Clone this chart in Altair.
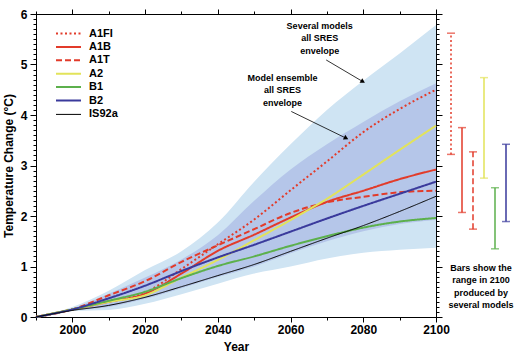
import math
import altair as alt
import pandas as pd

# ---------------- data ----------------
years = [1990, 2000, 2010, 2020, 2030, 2040, 2050, 2060, 2070, 2080, 2090, 2100]

a1fi = [0, 0.15, 0.31, 0.48, 0.95, 1.44, 1.93, 2.51, 3.08, 3.66, 4.12, 4.50]
a1b = [0, 0.15, 0.30, 0.46, 0.86, 1.31, 1.63, 1.97, 2.28, 2.50, 2.73, 2.92]
a1t = [0, 0.15, 0.43, 0.71, 1.09, 1.42, 1.74, 2.06, 2.27, 2.38, 2.47, 2.50]
a2 = [0, 0.15, 0.30, 0.43, 0.78, 1.13, 1.52, 1.92, 2.34, 2.82, 3.31, 3.79]
b1 = [0, 0.15, 0.32, 0.50, 0.77, 1.01, 1.20, 1.41, 1.60, 1.77, 1.89, 1.96]
b2 = [0, 0.15, 0.37, 0.62, 0.91, 1.18, 1.43, 1.69, 1.95, 2.20, 2.44, 2.68]
is92a = [0, 0.13, 0.23, 0.39, 0.60, 0.82, 1.04, 1.30, 1.56, 1.81, 2.09, 2.39]

# "Several models, all SRES envelope" (light) and "Model ensemble" (dark)
light_low = [0, 0.12, 0.14, 0.26, 0.45, 0.66, 0.86, 1.00, 1.16, 1.27, 1.33, 1.37]
light_high = [0, 0.20, 0.52, 0.93, 1.30, 1.87, 2.68, 3.42, 4.10, 4.68, 5.22, 5.78]
dark_low = [0, 0.13, 0.20, 0.36, 0.57, 0.79, 1.00, 1.26, 1.50, 1.70, 1.84, 1.92]
dark_high = [0, 0.17, 0.46, 0.78, 1.14, 1.62, 2.30, 2.92, 3.42, 3.86, 4.27, 4.63]

scenarios = ["A1FI", "A1B", "A1T", "A2", "B1", "B2", "IS92a"]
series = [a1fi, a1b, a1t, a2, b1, b2, is92a]

# ranges in 2100 from several models (bars at right)
bar_scen = ["A1FI", "A1B", "A1T", "A2", "B1", "B2"]
bar_low = [3.22, 2.07, 1.74, 2.75, 1.35, 1.89]
bar_high = [5.62, 3.75, 3.27, 4.74, 2.56, 3.42]

ann_text = ["Several models\nall SRES\nenvelope", "Model ensemble\nall SRES\nenvelope"]
ann_year = [2068.0, 2057.8]
ann_temp = [5.84, 4.81]

arrow_x0 = [2069.8, 2060.2]
arrow_y0 = [5.09, 4.07]
arrow_x1 = [2079.9, 2075.3]
arrow_y1 = [4.66, 3.54]

bar_note = "Bars show the\nrange in 2100\nproduced by\nseveral models"

major_x = [2000, 2020, 2040, 2060, 2080, 2100]
minor_x = [1990, 2000, 2010, 2020, 2030, 2040, 2050, 2060, 2070, 2080, 2090, 2100]
major_y = [0, 1, 2, 3, 4, 5, 6]
minor_y = [i / 10 for i in range(61)]

# ---------------- styles ----------------
FONT = "Liberation Sans"
RED = "#e23b2a"
line_colors = [RED, RED, RED, "#e2e35a", "#5cb04c", "#3a3a9c", "#000000"]
line_dash = [[2, 2.5], [1, 0], [6, 3], [1, 0], [1, 0], [1, 0], [1, 0]]
line_width = [2, 2, 2, 2, 2, 2, 1]
LIGHT = "#cfe4f3"
DARK = "#b5c6e9"

W, H = 400, 303

# ---------------- tables ----------------
lines = pd.DataFrame(
    [{"scenario": s, "year": y, "temp": v}
     for s, vals in zip(scenarios, series) for y, v in zip(years, vals)]
)
env = pd.DataFrame({"year": years, "light_low": light_low, "light_high": light_high,
                    "dark_low": dark_low, "dark_high": dark_high})
bars = pd.DataFrame({"scenario": bar_scen, "low": bar_low, "high": bar_high})
ann = pd.DataFrame({"year": ann_year, "temp": ann_temp, "label": ann_text})

px_per_year = W / (years[-1] - years[0])
px_per_deg = H / 6.0
arrows = pd.DataFrame({"x0": arrow_x0, "y0": arrow_y0, "x1": arrow_x1, "y1": arrow_y1})
arrows["angle"] = [
    math.degrees(math.atan2((a - b) * px_per_deg, (c - d) * px_per_year))
    for a, b, c, d in zip(arrow_y0, arrow_y1, arrow_x1, arrow_x0)
]
note = pd.DataFrame({"scenario": ["A2"], "temp": [1.05], "label": [bar_note]})

xs = alt.Scale(domain=[1990, 2100], nice=False, zero=False)
ys = alt.Scale(domain=[0, 6], nice=False, zero=False)
bx = alt.Scale(type="point", domain=bar_scen, range=[415, 470], padding=0)

color_scale = alt.Scale(type="ordinal", domain=scenarios, range=line_colors)
dash_scale = alt.Scale(type="ordinal", domain=scenarios, range=line_dash)
width_scale = alt.Scale(type="ordinal", domain=scenarios, range=line_width)

leg = alt.Legend(title=None, orient="none", legendX=26.5, legendY=13.5,
                 symbolType="M-2.5,0H2.5", symbolSize=100, labelFont=FONT,
                 labelFontSize=11, labelFontWeight="bold", labelColor="black",
                 labelOffset=14.5, rowPadding=2.4)

# ---------------- layers ----------------
light = alt.Chart(env).mark_area(color=LIGHT, interpolate="monotone").encode(
    x=alt.X("year:Q", scale=xs,
            axis=alt.Axis(orient="bottom", values=major_x, format="d", tickSize=5,
                          labelPadding=2, title="Year", titleY=29,
                          titleBaseline="middle")),
    y=alt.Y("light_low:Q", scale=ys,
            axis=alt.Axis(orient="left", values=major_y, tickSize=6, labelPadding=3,
                          title="Temperature Change (°C)", titleX=-28, titleY=H / 2,
                          titleAngle=270, titleAlign="center", titleBaseline="middle")),
    y2="light_high:Q",
)

dark = alt.Chart(env).mark_area(color=DARK, interpolate="monotone").encode(
    x=alt.X("year:Q", scale=xs,
            axis=alt.Axis(orient="bottom", values=minor_x, labels=False, tickSize=3,
                          title=None)),
    y=alt.Y("dark_low:Q", scale=ys,
            axis=alt.Axis(orient="left", values=minor_y, labels=False, tickSize=3,
                          title=None)),
    y2="dark_high:Q",
)

curves = alt.Chart(lines).mark_line(interpolate="monotone").encode(
    x=alt.X("year:Q", scale=xs,
            axis=alt.Axis(orient="top", values=major_x, labels=False, tickSize=5,
                          title=None)),
    y=alt.Y("temp:Q", scale=ys,
            axis=alt.Axis(orient="right", values=major_y, labels=False, tickSize=6,
                          title=None)),
    color=alt.Color("scenario:N", scale=color_scale, legend=leg),
    strokeDash=alt.StrokeDash("scenario:N", scale=dash_scale, legend=leg),
    strokeWidth=alt.StrokeWidth("scenario:N", scale=width_scale, legend=leg),
)

notes = alt.Chart(ann).mark_text(
    lineBreak="\n", baseline="top", align="center", font=FONT, fontSize=9,
    fontWeight="bold", lineHeight=12.3, color="black"
).encode(
    x=alt.X("year:Q", scale=xs,
            axis=alt.Axis(orient="top", values=minor_x, labels=False, tickSize=3,
                          title=None)),
    y=alt.Y("temp:Q", scale=ys,
            axis=alt.Axis(orient="right", values=minor_y, labels=False, tickSize=3,
                          title=None)),
    text="label:N",
)

arrow_lines = alt.Chart(arrows).mark_rule(color="black", strokeWidth=0.8).encode(
    x=alt.X("x0:Q", scale=xs, axis=None),
    y=alt.Y("y0:Q", scale=ys, axis=None),
    x2="x1:Q",
    y2="y1:Q",
)

arrow_heads = alt.Chart(arrows).mark_point(
    shape="triangle-right", filled=True, size=28, color="black", opacity=1
).encode(
    x=alt.X("x1:Q", scale=xs, axis=None),
    y=alt.Y("y1:Q", scale=ys, axis=None),
    angle=alt.Angle("angle:Q", scale=None),
)

bar_rules = alt.Chart(bars).mark_rule(strokeWidth=1.5).encode(
    x=alt.X("scenario:N", scale=bx, axis=None),
    y=alt.Y("low:Q", scale=ys, axis=None),
    y2="high:Q",
    color=alt.Color("scenario:N", scale=color_scale, legend=None),
    strokeDash=alt.StrokeDash("scenario:N", scale=dash_scale, legend=None),
)

bar_lo = alt.Chart(bars).mark_tick(orient="horizontal", size=8, thickness=1.5).encode(
    x=alt.X("scenario:N", scale=bx, axis=None),
    y=alt.Y("low:Q", scale=ys, axis=None),
    color=alt.Color("scenario:N", scale=color_scale, legend=None),
)

bar_hi = alt.Chart(bars).mark_tick(orient="horizontal", size=8, thickness=1.5).encode(
    x=alt.X("scenario:N", scale=bx, axis=None),
    y=alt.Y("high:Q", scale=ys, axis=None),
    color=alt.Color("scenario:N", scale=color_scale, legend=None),
)

bar_text = alt.Chart(note).mark_text(
    lineBreak="\n", baseline="top", align="center", font=FONT, fontSize=9,
    fontWeight="bold", lineHeight=12.3, color="black", dx=-3
).encode(
    x=alt.X("scenario:N", scale=bx, axis=None),
    y=alt.Y("temp:Q", scale=ys, axis=None),
    text="label:N",
)

chart = alt.layer(
    light, dark, curves, notes, arrow_lines, arrow_heads,
    bar_rules, bar_lo, bar_hi, bar_text,
).resolve_scale(
    x="independent"
).resolve_axis(
    x="independent", y="independent"
).properties(
    width=W, height=H,
    autosize=alt.AutoSizeParams(type="none"),
    padding={"left": 36, "top": 14, "right": 81, "bottom": 37},
    background="white",
).configure_view(
    stroke="transparent"
).configure_axis(
    grid=False, labelFont=FONT, labelFontSize=12, labelFontWeight="bold",
    labelColor="black", titleFont=FONT, titleFontSize=12, titleFontWeight="bold",
    titleColor="black", tickColor="black", domainColor="black", tickWidth=1,
    domainWidth=1, labelFlush=False,
)

chart.save("out.html", embed_options={"renderer": "svg", "actions": False})
